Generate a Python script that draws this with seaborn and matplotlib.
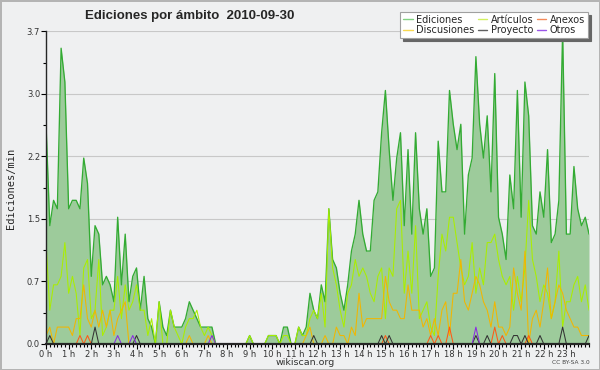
import numpy as np
import pandas as pd
import matplotlib
matplotlib.use("Agg")
import matplotlib.pyplot as plt
import matplotlib.ticker as mticker
from matplotlib.lines import Line2D
import seaborn as sns

# === data: ediciones/min, one value every 10 minutes (0:00 -> 24:00) ===
minutos = np.arange(0, 24 * 60 + 1, 10)

ediciones = [
    2.6, 1.4, 1.7, 1.6, 3.5, 3.1, 1.6, 1.7, 1.7, 1.6,
    2.2, 1.9, 0.8, 1.4, 1.3, 0.7, 0.8, 0.7, 0.5, 1.5,
    0.7, 1.3, 0.5, 0.8, 0.9, 0.4, 0.8, 0.3, 0.2, 0.0,
    0.5, 0.2, 0.1, 0.4, 0.2, 0.2, 0.2, 0.3, 0.5, 0.4,
    0.3, 0.2, 0.2, 0.2, 0.2, 0.0, 0.0, 0.0, 0.0, 0.0,
    0.0, 0.0, 0.0, 0.0, 0.1, 0.0, 0.0, 0.0, 0.0, 0.1,
    0.1, 0.1, 0.0, 0.2, 0.2, 0.0, 0.0, 0.2, 0.1, 0.2,
    0.6, 0.4, 0.3, 0.7, 0.5, 1.6, 1.0, 0.9, 0.6, 0.4,
    0.7, 1.1, 1.3, 1.7, 1.3, 1.1, 1.1, 1.7, 1.8, 2.5,
    3.0, 2.3, 1.7, 2.2, 2.5, 1.4, 2.3, 1.3, 2.5, 1.6,
    1.3, 1.6, 0.8, 0.9, 2.4, 1.8, 1.8, 3.0, 2.6, 2.3,
    2.6, 1.3, 2.0, 2.2, 3.4, 2.6, 2.2, 2.7, 1.8, 3.2,
    1.5, 1.3, 1.0, 2.0, 1.6, 3.0, 1.5, 3.1, 2.7, 1.4,
    1.3, 1.8, 1.5, 2.3, 1.2, 1.3, 1.7, 3.7, 1.3, 1.3,
    2.1, 1.6, 1.4, 1.5, 1.3,
]

articulos = [
    1.2, 0.4, 0.7, 0.7, 0.8, 1.2, 0.6, 0.8, 0.6, 0.1,
    0.9, 1.0, 0.3, 0.4, 1.0, 0.1, 0.2, 0.4, 0.4, 0.8,
    0.3, 0.7, 0.4, 0.5, 0.7, 0.4, 0.4, 0.1, 0.3, 0.0,
    0.5, 0.0, 0.0, 0.4, 0.2, 0.1, 0.0, 0.2, 0.3, 0.3,
    0.4, 0.2, 0.1, 0.2, 0.1, 0.0, 0.0, 0.0, 0.0, 0.0,
    0.0, 0.0, 0.0, 0.0, 0.1, 0.0, 0.0, 0.0, 0.0, 0.1,
    0.1, 0.1, 0.0, 0.1, 0.1, 0.0, 0.0, 0.2, 0.1, 0.1,
    0.3, 0.4, 0.3, 0.6, 0.2, 1.6, 0.9, 0.7, 0.4, 0.2,
    0.6, 0.7, 1.0, 0.8, 0.9, 0.8, 0.6, 0.5, 0.8, 0.9,
    0.3, 0.9, 0.8, 1.6, 1.7, 0.6, 1.1, 0.6, 1.4, 0.3,
    0.4, 0.5, 0.2, 0.1, 0.8, 1.3, 1.1, 1.5, 1.5, 1.2,
    0.9, 0.7, 0.8, 1.2, 0.6, 0.9, 0.7, 1.2, 1.2, 1.3,
    1.0, 0.8, 0.7, 0.8, 0.4, 0.8, 0.5, 0.9, 1.7, 1.0,
    0.8, 0.5, 0.7, 0.6, 0.3, 0.5, 1.1, 0.2, 0.5, 0.5,
    0.7, 0.8, 0.5, 0.7, 0.4,
]

discusiones = [
    0.1, 0.2, 0.0, 0.2, 0.2, 0.2, 0.2, 0.1, 0.3, 0.3,
    0.7, 0.3, 0.2, 0.4, 0.2, 0.4, 0.2, 0.4, 0.1, 0.3,
    0.4, 0.5, 0.0, 0.0, 0.0, 0.0, 0.0, 0.0, 0.0, 0.0,
    0.0, 0.0, 0.0, 0.0, 0.0, 0.0, 0.0, 0.0, 0.1, 0.0,
    0.0, 0.0, 0.0, 0.1, 0.0, 0.0, 0.0, 0.0, 0.0, 0.0,
    0.0, 0.0, 0.0, 0.0, 0.0, 0.0, 0.0, 0.0, 0.0, 0.0,
    0.0, 0.0, 0.0, 0.0, 0.0, 0.0, 0.0, 0.0, 0.0, 0.1,
    0.2, 0.0, 0.0, 0.0, 0.1, 0.0, 0.0, 0.2, 0.1, 0.1,
    0.0, 0.2, 0.1, 0.6, 0.2, 0.3, 0.3, 0.3, 0.3, 0.3,
    0.8, 0.5, 0.4, 0.4, 0.3, 0.3, 0.7, 0.4, 0.4, 0.4,
    0.2, 0.3, 0.1, 0.3, 0.1, 0.4, 0.5, 0.1, 0.6, 0.6,
    1.0, 0.5, 0.4, 0.6, 0.8, 0.7, 0.5, 0.4, 0.2, 0.5,
    0.2, 0.2, 0.1, 0.2, 0.9, 0.6, 0.4, 1.1, 0.0, 0.3,
    0.4, 0.2, 0.5, 0.9, 0.3, 0.5, 0.7, 0.6, 0.4, 0.3,
    0.2, 0.2, 0.1, 0.1, 0.1,
]

# sparse series: {index of 10-min slot: value}
anexos_pts = {9: 0.1, 11: 0.1, 90: 0.1, 102: 0.1, 104: 0.1, 107: 0.2,
              119: 0.2, 121: 0.1, 128: 0.1}
proyecto_pts = {1: 0.1, 13: 0.2, 24: 0.1, 71: 0.1, 89: 0.1, 91: 0.1,
                114: 0.1, 117: 0.1, 124: 0.1, 125: 0.1, 127: 0.1,
                131: 0.1, 137: 0.2, 144: 0.1}
otros_pts = {19: 0.1, 23: 0.1, 44: 0.1, 114: 0.2}

def expand(pts):
    vals = [0.0] * len(minutos)
    for k, v in pts.items():
        vals[k] = v
    return vals

df = pd.DataFrame({
    "hora": minutos / 60,
    "Ediciones": ediciones,
    "Artículos": articulos,
    "Discusiones": discusiones,
    "Anexos": expand(anexos_pts),
    "Proyecto": expand(proyecto_pts),
    "Otros": expand(otros_pts),
})

colores = {
    "Ediciones": "#33ab33",
    "Artículos": "#aaee00",
    "Discusiones": "#f2b600",
    "Anexos": "#ff5a14",
    "Proyecto": "#333333",
    "Otros": "#8a2be2",
}
colores_leyenda = {
    "Ediciones": "#82d282",
    "Artículos": "#d2f060",
    "Discusiones": "#f8d850",
    "Anexos": "#f48a5a",
    "Proyecto": "#606060",
    "Otros": "#9a55e8",
}

sns.set_style("ticks")
plt.rcParams["font.family"] = ["DejaVu Sans"]

bg = "#eff0f1"
fig = plt.figure(figsize=(6, 3.7), dpi=100, facecolor=bg,
                 edgecolor="#b4b4b4", linewidth=2)
ax = fig.add_axes([0.0767, 0.0703, 0.905, 0.8451])
ax.set_facecolor(bg)

# --- area + lines ---
ax.fill_between(df["hora"], df["Ediciones"], color="#9dcb9b", lw=0, zorder=1)
for serie in ["Ediciones", "Artículos", "Discusiones", "Anexos", "Proyecto", "Otros"]:
    lw = 0.95 if serie == "Ediciones" else 0.75
    sns.lineplot(data=df, x="hora", y=serie, color=colores[serie],
                 lw=lw, ax=ax, legend=False, zorder=2)

# --- axes ---
ax.set_xlim(0, 24)
ax.set_ylim(0, 3.7)
ax.xaxis.set_major_locator(mticker.FixedLocator(range(24)))
ax.xaxis.set_major_formatter(mticker.FuncFormatter(lambda v, p: f"{int(v)} h"))
ax.xaxis.set_minor_locator(mticker.MultipleLocator(1 / 6))
ax.yaxis.set_major_locator(mticker.FixedLocator(np.linspace(0, 3.7, 6)))
ax.yaxis.set_major_formatter(mticker.FormatStrFormatter("%.1f"))
ax.yaxis.set_minor_locator(mticker.FixedLocator(np.linspace(0, 3.7, 11)))
ax.tick_params(axis="both", which="major", length=3.5, width=0.8, labelsize=6,
               colors="black", labelcolor="#333333", pad=0.8)
ax.tick_params(axis="both", which="minor", length=2.5, width=0.8, colors="black")
ax.grid(axis="y", which="major", color="#c8c8c8", lw=0.8)
ax.set_axisbelow(True)
ax.set_xlabel("")
ax.set_ylabel("")
sns.despine(ax=ax)
ax.spines["left"].set_linewidth(1.0)
ax.spines["bottom"].set_linewidth(1.6)
ax.spines["bottom"].set_zorder(5)
ax.spines["left"].set_zorder(5)

# --- texts ---
fig.text(0.142, 0.958, "Ediciones por ámbito  2010-09-30", fontsize=9.5,
         fontweight="bold", family="Liberation Sans", va="center", ha="left")
fig.text(0.018, 0.49, "Ediciones/min", rotation=90, fontsize=7.5,
         family="DejaVu Sans Mono", va="center", ha="center")
fig.text(0.508, 0.02, "wikiscan.org", fontsize=6.8, va="center", ha="center",
         color="#333333")
fig.text(0.983, 0.02, "CC BY-SA 3.0", fontsize=4.2, va="center", ha="right",
         color="#444444")

# --- legend (column-wise order to get the 3x2 layout) ---
orden = ["Ediciones", "Discusiones", "Artículos", "Proyecto", "Anexos", "Otros"]
handles = [Line2D([], [], color=colores_leyenda[s], lw=1) for s in orden]
leg = fig.legend(handles, orden, ncol=3, loc="upper right",
                 bbox_to_anchor=(0.98, 0.968), fontsize=7, frameon=True,
                 fancybox=False, shadow={"color": "#666666", "alpha": 1},
                 handlelength=1.0, handletextpad=0.35, columnspacing=0.35,
                 labelspacing=0.05, borderpad=0.3, borderaxespad=0)
leg.get_frame().set_edgecolor("#a0a0a0")
leg.get_frame().set_linewidth(0.8)
leg.get_frame().set_alpha(1)

fig.savefig("out.png", dpi=100, facecolor=bg)
